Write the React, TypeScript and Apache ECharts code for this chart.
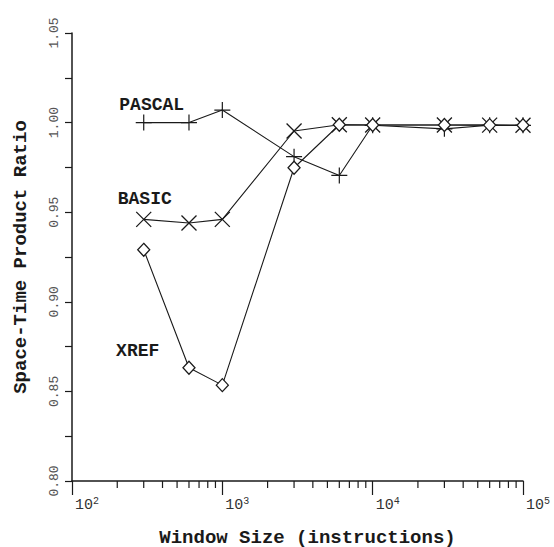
import React, { useEffect, useRef } from "react";
import * as echarts from "echarts";

// Window sizes (instructions)
const windowSizes = [300, 600, 1000, 3000, 6000, 10000, 30000, 60000, 100000];
// Space-time product ratios
const pascalValues = [1.0, 1.0, 1.007, 0.981, 0.9705, 0.9985, 0.9965, 0.9985, 0.9985];
const basicValues = [0.946, 0.944, 0.946, 0.9953, 0.9988, 0.9987, 0.9987, 0.9986, 0.9985];
const xrefValues = [0.929, 0.8632, 0.8535, 0.9748, 0.9988, 0.9987, 0.9987, 0.9986, 0.9985];

const seriesNames = ["PASCAL", "BASIC", "XREF"];
const xMajorTicks = [100, 1000, 10000, 100000];
const xMajorExponents = ["2", "3", "4", "5"];
const xMinorTicks = [
  200, 300, 400, 500, 600, 700, 800, 900,
  2000, 3000, 4000, 5000, 6000, 7000, 8000, 9000,
  20000, 30000, 40000, 50000, 60000, 70000, 80000, 90000,
];
const yMin = 0.8;
const yMax = 1.05;
const yInterval = 0.025;

const MONO = "'Liberation Mono', 'DejaVu Sans Mono', monospace";
const INK = "#1a1a1a";

export default function App() {
  const ref = useRef<HTMLDivElement>(null);

  useEffect(() => {
    document.body.style.margin = "0";
    if (!ref.current) return;
    const chart = echarts.init(ref.current, null, { renderer: "svg" });

    const pairs = (vals: number[]) => windowSizes.map((x, i) => [x, vals[i]]);
    const nameLabel = (name: string, offset: number[]) => ({
      show: true,
      position: "inside",
      offset,
      formatter: name,
      fontFamily: MONO,
      fontWeight: "bold",
      fontSize: 18,
      color: INK,
    });
    const withLabel = (vals: number[], name: string, offset: number[]) =>
      pairs(vals).map((d, i) =>
        i === 0 ? { value: d, label: nameLabel(name, offset) } : { value: d }
      );

    const lineStyle = { color: INK, width: 1.1 };

    chart.setOption({
      animation: false,
      backgroundColor: "#ffffff",
      grid: { left: 72, right: 31, top: 33, bottom: 66, containLabel: false, outerBoundsMode: "none" },
      xAxis: {
        type: "log",
        logBase: 10,
        min: xMajorTicks[0],
        max: xMajorTicks[xMajorTicks.length - 1],
        name: "Window Size (instructions)",
        nameLocation: "middle",
        nameGap: 47,
        nameTextStyle: {
          fontFamily: MONO,
          fontWeight: "bold",
          fontSize: 19,
          color: INK,
          padding: [0, 0, 0, 20],
        },
        axisLine: { show: true, onZero: false, lineStyle: { color: INK, width: 1.5 } },
        axisTick: { show: true, inside: false, length: 14, lineStyle: { color: INK, width: 1.2 } },
        minorTick: { show: false },
        splitLine: { show: false },
        axisLabel: {
          align: "left",
          margin: 15,
          padding: [0, 0, 0, 3],
          fontFamily: MONO,
          fontSize: 15,
          color: "#333",
          formatter: (v: number) => {
            const i = xMajorTicks.findIndex((t) => Math.abs(t - v) / t < 1e-6);
            return i >= 0 ? `{b|10}{s|${xMajorExponents[i]}}` : "";
          },
          rich: {
            b: { fontFamily: MONO, fontSize: 15, color: "#333", lineHeight: 18 },
            s: { fontFamily: MONO, fontSize: 10, color: "#333", verticalAlign: "top", lineHeight: 18 },
          },
        },
      },
      yAxis: {
        type: "value",
        min: yMin,
        max: yMax,
        interval: yInterval,
        name: "Space-Time Product Ratio",
        nameLocation: "middle",
        nameGap: 42,
        nameTextStyle: {
          fontFamily: MONO,
          fontWeight: "bold",
          fontSize: 19,
          color: INK,
        },
        axisLine: { show: true, onZero: false, lineStyle: { color: INK, width: 1.5 } },
        axisTick: { show: true, inside: false, length: 7, lineStyle: { color: INK, width: 1.2 } },
        splitLine: { show: false },
        axisLabel: {
          rotate: 90,
          margin: 11,
          fontFamily: MONO,
          fontSize: 13,
          color: "#555",
          formatter: (v: number) => {
            const k = Math.round(v * 1000);
            return k % 50 === 0 ? v.toFixed(2) : "";
          },
        },
      },
      series: [
        {
          name: seriesNames[1],
          type: "line",
          data: withLabel(basicValues, seriesNames[1], [1, -20]),
          symbol: "path://M0,0 L16,16 M16,0 L0,16",
          symbolSize: 15,
          lineStyle,
          itemStyle: { color: "none", borderColor: INK, borderWidth: 1.3 },
          z: 3,
        },
        {
          name: seriesNames[0],
          type: "line",
          data: withLabel(pascalValues, seriesNames[0], [8, -18]),
          symbol: "path://M0,8 L16,8 M8,0 L8,16",
          symbolSize: 16,
          lineStyle,
          itemStyle: { color: "none", borderColor: INK, borderWidth: 1.2 },
          z: 4,
        },
        {
          name: seriesNames[2],
          type: "line",
          data: withLabel(xrefValues, seriesNames[2], [-6, 101]),
          symbol: "diamond",
          symbolSize: [12, 13],
          lineStyle,
          itemStyle: { color: "#ffffff", borderColor: INK, borderWidth: 1.3 },
          z: 5,
        },
        {
          type: "custom",
          silent: true,
          clip: false,
          z: 6,
          data: xMinorTicks.map((v) => [v, yMin]),
          renderItem: (_params: any, api: any) => {
            const p = api.coord([api.value(0), api.value(1)]);
            return {
              type: "line",
              shape: { x1: p[0], y1: p[1], x2: p[0], y2: p[1] + 7 },
              style: { stroke: INK, lineWidth: 1.2 },
            };
          },
        },
      ],
    });

    return () => chart.dispose();
  }, []);

  return (
    <div
      ref={ref}
      style={{ position: "fixed", left: 0, top: 0, width: 554, height: 547, background: "#fff" }}
    />
  );
}
